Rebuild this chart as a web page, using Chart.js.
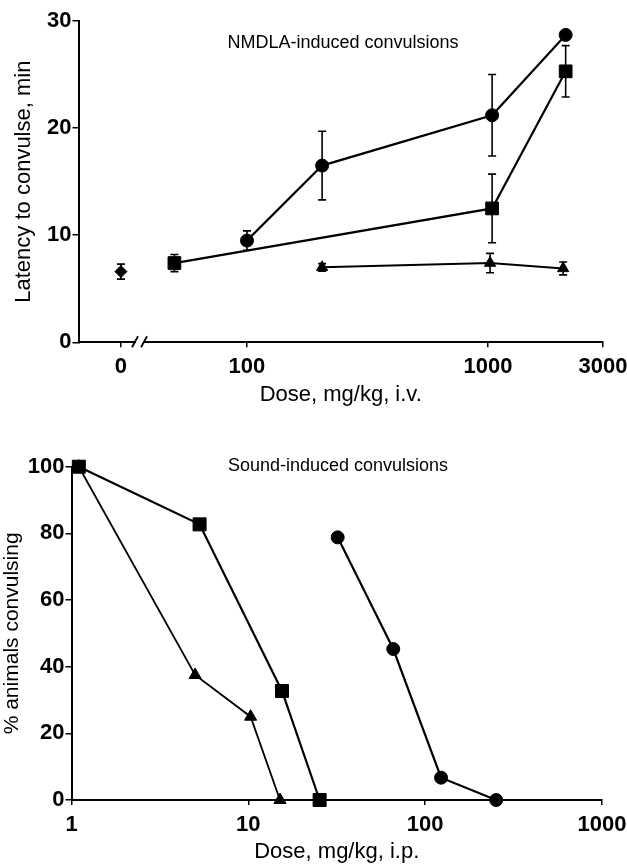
<!DOCTYPE html>
<html>
<head>
<meta charset="utf-8">
<script src="https://cdn.jsdelivr.net/npm/chart.js@4.4.0/dist/chart.umd.min.js"></script>
<style>
    html, body { margin: 0; padding: 0; background: #fff; }
    body { width: 627px; height: 866px; position: relative; overflow: hidden; }
    .panel { position: absolute; left: 0; width: 627px; }
    #topPanel { top: 0; height: 420px; }
    #bottomPanel { top: 430px; height: 436px; }
</style>
</head>
<body>
<div class="panel" id="topPanel"><canvas id="nmdlaChart" width="627" height="420"></canvas></div>
<div class="panel" id="bottomPanel"><canvas id="soundChart" width="627" height="436"></canvas></div>
<script>
// --- top panel: latency to convulse vs i.v. dose ---
const ivTickValues = [30, 100, 1000, 3000];
const ivTickLabels = ['0', '100', '1000', '3000'];
const ivBreakDose = 36;
const latencyTicks = [0, 10, 20, 30];

const circleDoseIv = [100, 205, 1040, 2100];
const circleLatency = [9.5, 16.5, 21.2, 28.7];
const circleLatencySem = [0.9, 3.2, 3.8, 0];

const squareDoseIv = [50, 1040, 2100];
const squareLatency = [7.4, 12.5, 25.3];
const squareLatencySem = [0.8, 3.2, 2.4];

const triangleDoseIv = [205, 1020, 2050];
const triangleLatency = [7.0, 7.4, 6.9];
const triangleLatencySem = [0.35, 0.9, 0.6];

const controlDoseIv = [30];
const controlLatency = [6.6];
const controlLatencySem = [0.7];

// --- bottom panel: % animals convulsing vs i.p. dose ---
const ipTickValues = [1, 10, 100, 1000];
const percentTicks = [0, 20, 40, 60, 80, 100];

const squareDoseIp = [1.1, 5.3, 15.5, 25.3];
const squarePercent = [100, 82.7, 32.7, 0];

const triangleDoseIp = [1.1, 5.0, 10.3, 15.1];
const trianglePercent = [100, 37.5, 25, 0];

const circleDoseIp = [32, 66, 123, 252];
const circlePercent = [78.8, 45.3, 6.7, 0];

const FONT = "'Liberation Sans', Arial, Helvetica, sans-serif";

const errorBarPlugin = {
    id: 'errorBars',
    afterDatasetsDraw(chart) {
        const ctx = chart.ctx;
        const yScale = chart.scales.y;
        ctx.save();
        ctx.strokeStyle = '#000';
        ctx.lineWidth = 1.6;
        chart.data.datasets.forEach((ds, di) => {
            if (!ds.errors) return;
            const meta = chart.getDatasetMeta(di);
            meta.data.forEach((pt, i) => {
                const e = ds.errors[i];
                if (!e) return;
                const yv = ds.data[i].y;
                const top = yScale.getPixelForValue(yv + e);
                const bot = yScale.getPixelForValue(yv - e);
                ctx.beginPath();
                ctx.moveTo(pt.x, top);
                ctx.lineTo(pt.x, bot);
                ctx.moveTo(pt.x - 4, top);
                ctx.lineTo(pt.x + 4, top);
                ctx.moveTo(pt.x - 4, bot);
                ctx.lineTo(pt.x + 4, bot);
                ctx.stroke();
            });
        });
        ctx.restore();
    }
};

const panelTitlePlugin = {
    id: 'panelTitle',
    afterDraw(chart, args, opts) {
        if (!opts.text) return;
        const ctx = chart.ctx;
        ctx.save();
        ctx.font = '18px ' + FONT;
        ctx.fillStyle = '#000';
        ctx.textAlign = 'center';
        ctx.textBaseline = 'middle';
        ctx.fillText(opts.text, opts.x, opts.y);
        ctx.restore();
    }
};

const axisBreakPlugin = {
    id: 'axisBreak',
    afterDraw(chart, args, opts) {
        if (!opts.at) return;
        const xs = chart.scales.x;
        const cx = xs.getPixelForValue(opts.at);
        const cy = xs.top;
        const ctx = chart.ctx;
        ctx.save();
        ctx.fillStyle = '#fff';
        ctx.fillRect(cx - 4, cy - 2, 8, 4);
        ctx.strokeStyle = '#000';
        ctx.lineWidth = 1.8;
        ctx.beginPath();
        ctx.moveTo(cx - 8, cy + 5);
        ctx.lineTo(cx - 2, cy - 6);
        ctx.moveTo(cx + 1, cy + 5);
        ctx.lineTo(cx + 7, cy - 6);
        ctx.stroke();
        ctx.restore();
    }
};

document.addEventListener('DOMContentLoaded', function() {
    renderNmdlaChart();
    renderSoundChart();
});

function series(xs, ys) {
    return xs.map((x, i) => ({ x: x, y: ys[i] }));
}

function makeDataset(xs, ys, style, radius, lineWidth, errors) {
    return {
        data: series(xs, ys),
        errors: errors,
        borderColor: '#000',
        backgroundColor: '#000',
        borderWidth: lineWidth,
        pointStyle: style,
        pointRadius: radius,
        pointHoverRadius: radius,
        pointBorderWidth: 1,
        showLine: lineWidth > 0,
        clip: false
    };
}

function axisOptions(cfg) {
    return {
        x: {
            type: 'logarithmic',
            min: cfg.xMin,
            max: cfg.xMax,
            afterBuildTicks: scale => { scale.ticks = cfg.xTicks.map(v => ({ value: v })); },
            afterFit: scale => { scale.height = cfg.xHeight; scale.paddingRight = 0; },
            ticks: {
                autoSkip: false,
                maxRotation: 0,
                padding: cfg.xTickPad,
                color: '#000',
                font: { family: FONT, size: 22, weight: 'bold' },
                callback: (v, i) => cfg.xLabels[i]
            },
            grid: { display: true, drawOnChartArea: false, drawTicks: true, tickLength: 5, color: '#000', lineWidth: 1.5 },
            border: { display: true, color: '#000', width: 2 },
            title: {
                display: true,
                text: cfg.xTitle,
                color: '#000',
                font: { family: FONT, size: 22 },
                padding: { top: 0, bottom: cfg.xTitlePad }
            }
        },
        y: {
            type: 'linear',
            min: cfg.yTicks[0],
            max: cfg.yTicks[cfg.yTicks.length - 1],
            afterBuildTicks: scale => { scale.ticks = cfg.yTicks.map(v => ({ value: v })); },
            afterFit: scale => { scale.width = cfg.yWidth; },
            ticks: {
                padding: 1,
                color: '#000',
                font: { family: FONT, size: 22, weight: 'bold' }
            },
            grid: { display: true, drawOnChartArea: false, drawTicks: true, tickLength: 6, color: '#000', lineWidth: 1.5 },
            border: { display: true, color: '#000', width: 2 },
            title: {
                display: true,
                text: cfg.yTitle,
                color: '#000',
                font: { family: FONT, size: cfg.yTitleSize },
                padding: { top: cfg.yTitlePad, bottom: 0 }
            }
        }
    };
}

function renderNmdlaChart() {
    const ctx = document.getElementById('nmdlaChart').getContext('2d');
    new Chart(ctx, {
        type: 'scatter',
        data: {
            datasets: [
                makeDataset(circleDoseIv, circleLatency, 'circle', 6.5, 2.2, circleLatencySem),
                makeDataset(squareDoseIv, squareLatency, 'rect', 9, 2.2, squareLatencySem),
                makeDataset(triangleDoseIv, triangleLatency, 'triangle', 6.5, 2, triangleLatencySem),
                makeDataset(controlDoseIv, controlLatency, 'rectRot', 6, 0, controlLatencySem)
            ]
        },
        options: {
            responsive: false,
            animation: false,
            layout: { padding: { top: 21, right: 24, left: 0, bottom: 0 } },
            scales: axisOptions({
                xMin: 20, xMax: 3000, xTicks: ivTickValues, xLabels: ivTickLabels,
                xHeight: 77.7, xTickPad: 6, xTitle: 'Dose, mg/kg, i.v.', xTitlePad: 12,
                yTicks: latencyTicks, yWidth: 78.5, yTitle: 'Latency to convulse, min',
                yTitleSize: 22, yTitlePad: 10.5
            }),
            plugins: {
                legend: { display: false },
                tooltip: { enabled: false },
                panelTitle: { text: 'NMDLA-induced convulsions', x: 343, y: 43 },
                axisBreak: { at: ivBreakDose }
            }
        },
        plugins: [errorBarPlugin, panelTitlePlugin, axisBreakPlugin]
    });
}

function renderSoundChart() {
    const ctx = document.getElementById('soundChart').getContext('2d');
    new Chart(ctx, {
        type: 'scatter',
        data: {
            datasets: [
                makeDataset(triangleDoseIp, trianglePercent, 'triangle', 7, 1.8),
                makeDataset(squareDoseIp, squarePercent, 'rect', 9.2, 2.2),
                makeDataset(circleDoseIp, circlePercent, 'circle', 6.5, 2.2)
            ]
        },
        options: {
            responsive: false,
            animation: false,
            layout: { padding: { top: 36.7, right: 25, left: 0, bottom: 0 } },
            scales: axisOptions({
                xMin: 1, xMax: 1000, xTicks: ipTickValues, xLabels: ipTickValues.map(String),
                xHeight: 66, xTickPad: 7, xTitle: 'Dose, mg/kg, i.p.', xTitlePad: 1,
                yTicks: percentTicks, yWidth: 71.5, yTitle: '% animals convulsing',
                yTitleSize: 21, yTitlePad: 0
            }),
            plugins: {
                legend: { display: false },
                tooltip: { enabled: false },
                panelTitle: { text: 'Sound-induced convulsions', x: 338, y: 36 },
                axisBreak: { at: null }
            }
        },
        plugins: [errorBarPlugin, panelTitlePlugin, axisBreakPlugin]
    });
}
</script>
</body>
</html>
